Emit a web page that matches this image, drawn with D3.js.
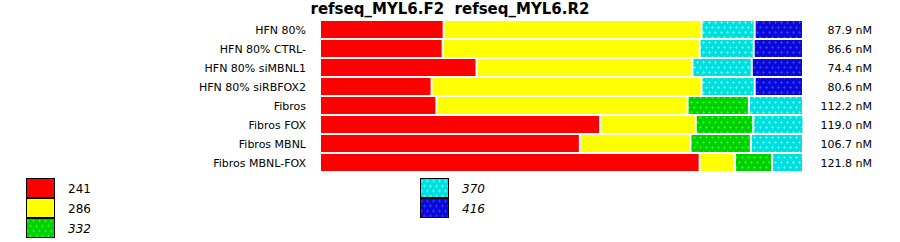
<!DOCTYPE html>
<html>
<head>
<meta charset="utf-8">
<script src="https://cdn.jsdelivr.net/npm/d3@7"></script>
<style>
  body { margin: 0; background: #fff; }
  text { font-family: "DejaVu Sans", Verdana, sans-serif; }
</style>
</head>
<body>
<svg class="chart" width="900" height="242"></svg>
<script>
// samples (rows) and their concentration labels
var samples = ["HFN 80%", "HFN 80% CTRL-", "HFN 80% siMBNL1", "HFN 80% siRBFOX2",
               "Fibros", "Fibros FOX", "Fibros MBNL", "Fibros MBNL-FOX"];
var totals = ["87.9 nM", "86.6 nM", "74.4 nM", "80.6 nM",
              "112.2 nM", "119.0 nM", "106.7 nM", "121.8 nM"];

// fragment sizes (legend keys)
var sizes = ["241", "286", "332", "370", "416"];

// percent of each fragment per sample (0 = absent)
var p241 = [25.6, 25.4, 32.4, 23.1, 24.1, 58.0, 53.8, 78.6];
var p286 = [53.4, 53.2, 44.7, 55.9, 52.0, 19.8, 22.9, 7.3];
var p332 = [0, 0, 0, 0, 12.7, 11.9, 12.5, 7.7];
var p370 = [11.0, 11.2, 12.3, 11.0, 11.2, 10.4, 10.8, 6.4];
var p416 = [10.0, 10.2, 10.6, 10.0, 0, 0, 0, 0];

var series = [p241, p286, p332, p370, p416];
var fills = ["#ff0000", "#ffff00", "url(#pat332)", "url(#pat370)", "url(#pat416)"];

var svg = d3.select("svg.chart");

// dotted patterns for the last three sizes
var defs = svg.append("defs");
var pats = [
    {id: "pat332", base: "#00d000", dot: "#22f022"},
    {id: "pat370", base: "#00dede", dot: "#44ffff"},
    {id: "pat416", base: "#0a0ad8", dot: "#3333ff"}
];
pats.forEach(function(p) {
    var pat = defs.append("pattern")
        .attr("id", p.id)
        .attr("patternUnits", "userSpaceOnUse")
        .attr("width", 6).attr("height", 10);
    pat.append("rect").attr("width", 6).attr("height", 10).attr("fill", p.base);
    [[1, 2], [4, 7]].forEach(function(c) {
        pat.append("rect").attr("x", c[0] - 1).attr("y", c[1]).attr("width", 3).attr("height", 1).attr("fill", p.dot);
        pat.append("rect").attr("x", c[0]).attr("y", c[1] - 1).attr("width", 1).attr("height", 3).attr("fill", p.dot);
    });
});

// title (two spaces between primers)
svg.append("text")
    .attr("x", 450).attr("y", 14)
    .attr("text-anchor", "middle")
    .style("font-size", "15px")
    .style("font-weight", "bold")
    .style("white-space", "pre")
    .text("refseq_MYL6.F2  refseq_MYL6.R2");

var y = d3.scaleBand()
    .domain(samples)
    .range([21, 171])
    .paddingInner(2 / 19)
    .paddingOuter(0);

// last segment has no trailing gap, so stretch 2px past the bar end
var x = d3.scaleLinear()
    .domain([0, 100])
    .range([321, 804]);

// stack segments per row
var segs = [];
samples.forEach(function(s, i) {
    var acc = 0;
    series.forEach(function(ser, k) {
        var v = ser[i];
        if (v > 0) {
            segs.push({sample: s, x0: acc, x1: acc + v, k: k});
            acc += v;
        }
    });
});

svg.selectAll("rect.seg")
    .data(segs)
    .enter()
    .append("rect")
        .attr("class", "seg")
        .attr("x", function(d) { return x(d.x0); })
        .attr("y", function(d) { return y(d.sample); })
        .attr("width", function(d) { return Math.max(0, x(d.x1) - x(d.x0) - 2); })
        .attr("height", y.bandwidth())
        .attr("fill", function(d) { return fills[d.k]; });

// row labels
svg.selectAll("text.lab")
    .data(samples)
    .enter()
    .append("text")
        .attr("class", "lab")
        .attr("x", 306)
        .attr("y", function(d) { return y(d) + y.bandwidth() / 2 + 4; })
        .attr("text-anchor", "end")
        .style("font-size", "11px")
        .text(function(d) { return d; });

// totals on the right
svg.selectAll("text.tot")
    .data(totals)
    .enter()
    .append("text")
        .attr("class", "tot")
        .attr("x", 872)
        .attr("y", function(d, i) { return y(samples[i]) + y.bandwidth() / 2 + 4; })
        .attr("text-anchor", "end")
        .style("font-size", "11px")
        .text(function(d) { return d; });

// legend: two columns, 3 + 2
var legend = sizes.map(function(s, i) {
    return {label: s, fill: fills[i], col: i < 3 ? 0 : 1, row: i < 3 ? i : i - 3, italic: i >= 2};
});
var colX = [26, 420];

var lg = svg.selectAll("g.leg")
    .data(legend)
    .enter()
    .append("g")
        .attr("class", "leg")
        .attr("transform", function(d) { return "translate(" + colX[d.col] + "," + (178.5 + d.row * 20) + ")"; });

lg.append("rect")
    .attr("x", 0.5).attr("y", 0)
    .attr("width", 28).attr("height", 19)
    .attr("fill", function(d) { return d.fill; })
    .attr("stroke", "#000")
    .attr("stroke-width", 1);

lg.append("text")
    .attr("x", 42).attr("y", 14)
    .style("font-size", "12px")
    .style("font-style", function(d) { return d.italic ? "italic" : "normal"; })
    .text(function(d) { return d.label; });
</script>
</body>
</html>
